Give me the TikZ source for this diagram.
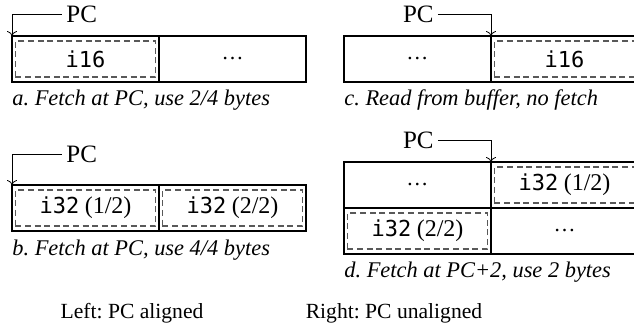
\documentclass[tikz,border=0pt]{standalone}
\usepackage{fontspec}
\setmainfont{Liberation Serif}
\setmonofont{DejaVu Sans Mono}
\usetikzlibrary{positioning,arrows.meta}
\frenchspacing

\newcommand{\half}[1]{{\fontsize{12}{13}\selectfont(#1)}}

\tikzset{
	>={To[length=2.5pt,width=5pt]},
	cell/.style={draw, line width=0.6pt, minimum width=73.5pt, minimum height=23pt,
		inner sep=0pt, outer sep=0pt, font=\fontsize{11}{12}\selectfont},
	instr/.style={draw=black!65, dash pattern=on 3pt off 1.8pt, line width=0.55pt,
		minimum width=70pt, minimum height=18pt, inner sep=0pt, font=\fontsize{11}{12}\selectfont},
	pclabel/.style={inner sep=2pt, font=\fontsize{12.5}{14}\selectfont},
	pcline/.style={->, line width=0.4pt},
	caption/.style={anchor=west, inner sep=0pt, font=\fontsize{11.2}{13}\selectfont\itshape},
	summary/.style={inner sep=0pt, font=\fontsize{10.8}{13}\selectfont},
}

\begin{document}
\begin{tikzpicture}[x=0.5pt,y=-0.5pt]
	\useasboundingbox (0,0) rectangle (634,332);
	% a. aligned, 2/4 bytes
	\node [cell, anchor=north west] (a1) at (12,36) {};
	\node [cell, right=0pt of a1] (a2) {…};
	\node [instr] (ia1) at (a1.center) {\texttt{i16}};
	\node [pclabel, anchor=west] (pca) at (62,14) {PC};
	\draw [pcline] (pca) -| (a1.north west);
	\node [caption] (capa) at (12,100) {a. Fetch at PC, use 2/4 bytes};
	% b. aligned, 4/4 bytes
	\node [cell, anchor=north west] (b1) at (12,185) {};
	\node [cell, right=0pt of b1] (b2) {};
	\node [instr] (ib1) at (b1.center) {\texttt{i32} \half{1/2}};
	\node [instr] (ib2) at (b2.center) {\texttt{i32} \half{2/2}};
	\node [pclabel, anchor=west] (pcb) at (62,154) {PC};
	\draw [pcline] (pcb) -| (b1.north west);
	\node [caption] (capb) at (12,250) {b. Fetch at PC, use 4/4 bytes};
	% c. unaligned, buffered
	\node [cell, anchor=north west] (c1) at (344,36) {…};
	\node [cell, right=0pt of c1] (c2) {};
	\node [instr] (ic2) at (c2.center) {\texttt{i16}};
	\node [pclabel, anchor=east] (pcc) at (438,14) {PC};
	\draw [pcline] (pcc) -| (c2.north west);
	\node [caption] (capc) at (344,100) {c. Read from buffer, no fetch};
	% d. unaligned, fetch at PC+2
	\node [cell, anchor=north west] (d1) at (344,162) {…};
	\node [cell, right=0pt of d1] (d2) {};
	\node [cell, below=0pt of d1] (d3) {};
	\node [cell, right=0pt of d3] (d4) {…};
	\node [instr] (id2) at (d2.center) {\texttt{i32} \half{1/2}};
	\node [instr] (id3) at (d3.center) {\texttt{i32} \half{2/2}};
	\node [pclabel, anchor=east] (pcd) at (438,140) {PC};
	\draw [pcline] (pcd) -| (d2.north west);
	\node [caption] (capd) at (344,272) {d. Fetch at PC+2, use 2 bytes};
	% summary
	\node [summary] (left) at (132,313) {Left: PC aligned};
	\node [summary] (right) at (394,313) {Right: PC unaligned};
\end{tikzpicture}
\end{document}
